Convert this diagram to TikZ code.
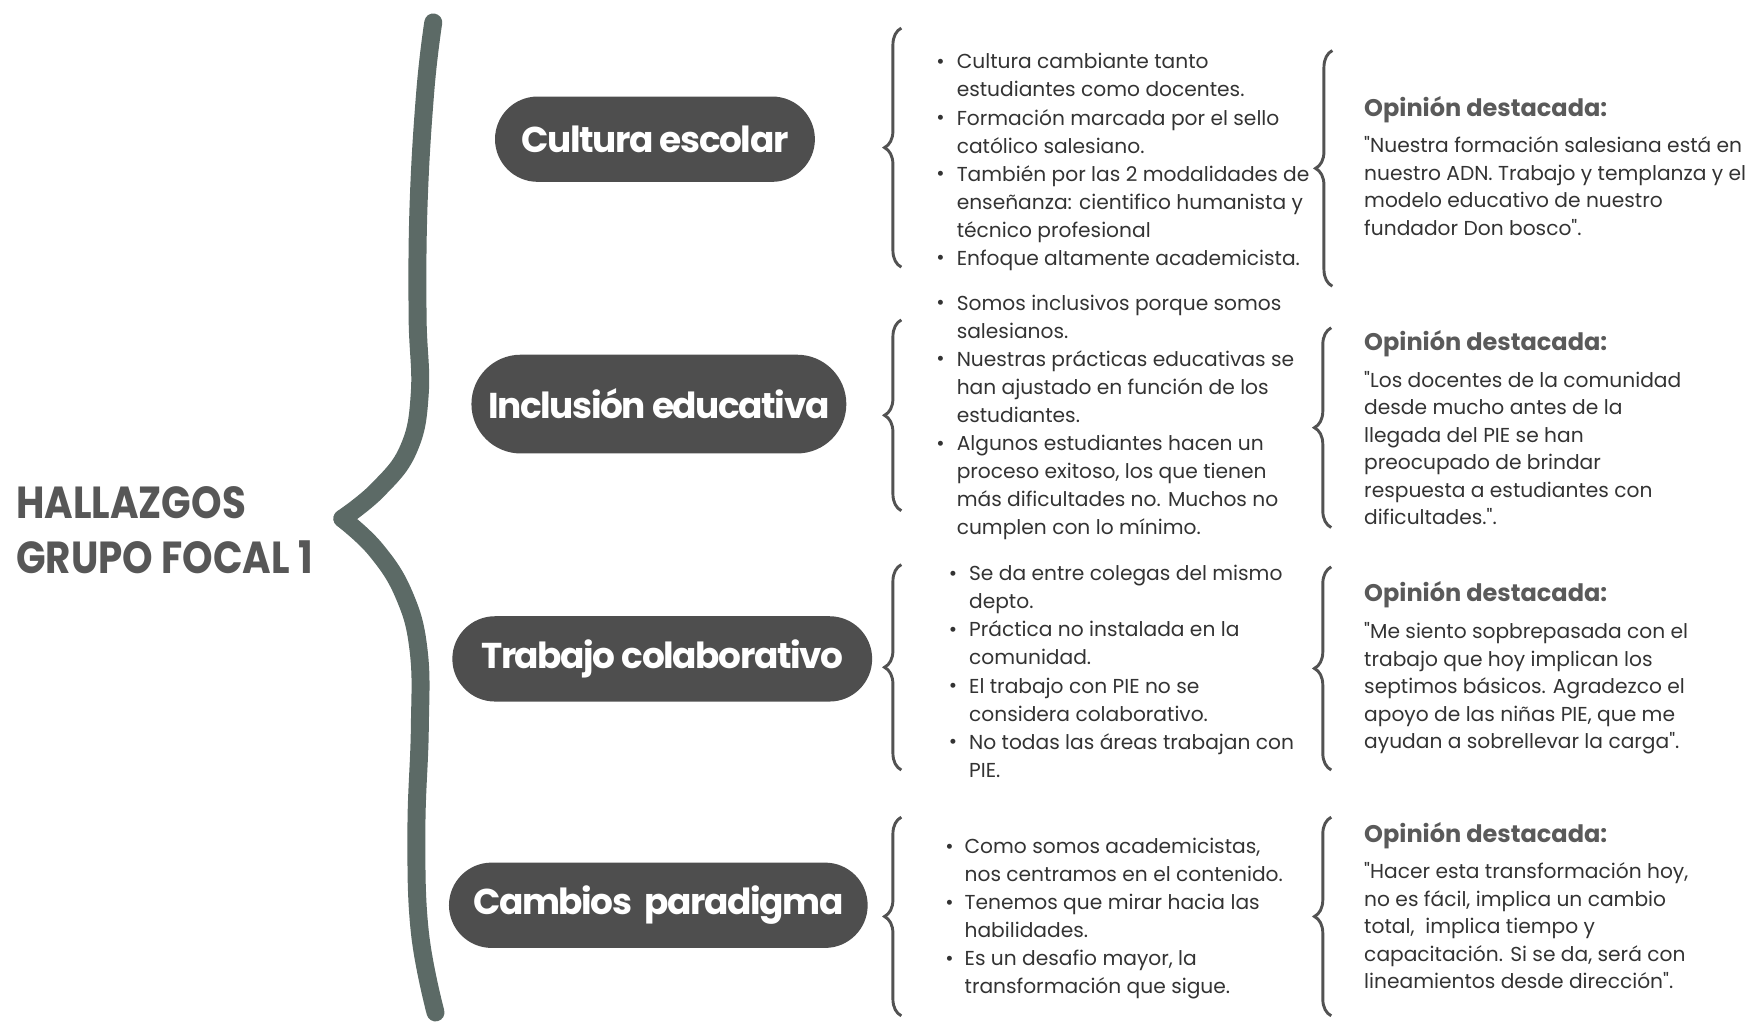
\documentclass[tikz,border=0pt]{standalone}
\usepackage{fontspec}
\setmainfont{Poppins}[Ligatures=TeXOff]
\newfontfamily\ttlfnt{Poppins}[Ligatures=TeXOff, FakeStretch=0.865]
\newfontfamily\pillfnt{Poppins}[Ligatures=TeXOff, LetterSpace=-4]
\usetikzlibrary{decorations.pathreplacing}
\definecolor{brk}{HTML}{5C6A66}
\definecolor{pillc}{HTML}{4E4E4E}
\definecolor{titc}{HTML}{575757}
\definecolor{bodyc}{HTML}{333333}
\definecolor{opc}{HTML}{5A5A5A}
\newcommand\bodyfnt{\fontsize{9}{12.5}\selectfont}
\newcommand\quotefnt{\fontsize{9}{12.25}\selectfont}
\tikzset{
  bracket/.style={draw=brk, line width=8pt, line cap=round, line join=round},
  pill/.style={fill=pillc, text=white, font=\pillfnt\bfseries\fontsize{16}{18}\selectfont, inner sep=0pt, rounded corners=19pt, minimum height=38pt},
  ttl/.style={text=titc, font=\ttlfnt\bfseries\fontsize{20}{24}\selectfont, anchor=base west, inner sep=0pt},
  bodytxt/.style={text=bodyc, font=\bodyfnt, align=left, anchor=north west, inner sep=0pt},
  quotetxt/.style={text=bodyc, font=\quotefnt, align=left, anchor=north west, inner sep=0pt},
  bul/.style={text=bodyc, font=\bodyfnt, anchor=base, inner sep=0pt},
  ophead/.style={text=opc, font=\bfseries\fontsize{10.7}{12}\selectfont, anchor=base west, inner sep=0pt},
  brc/.style={draw=bodyc!85, line width=1.3pt, decorate, decoration={brace, amplitude=7.5pt}}
}
\begin{document}
\begin{tikzpicture}[x=0.5pt,y=-0.5pt]
\useasboundingbox (0,0) rectangle (1568,910);
% big bracket
\draw[bracket] plot[smooth, tension=0.7] coordinates {(386,20) (379,80) (373,180) (372,280) (374,350) (364,400) (337,436) (305,462)};
\draw[bracket] plot[smooth, tension=0.7] coordinates {(305,462) (335,490) (360,530) (373,580) (374,650) (371,740) (374,830) (388,902)};
% title
\node[ttl] (t1) at (14,462) {HALLAZGOS};
\node[ttl] (t2) at (14,511) {GRUPO FOCAL 1};
% pills
\node[pill, minimum width=142.5pt] (p1) at (583.5,124) {Cultura escolar};
\node[pill, minimum width=167pt, minimum height=44pt, rounded corners=22pt] (p2) at (587,360) {Inclusión educativa};
\node[pill, minimum width=187pt] (p3) at (590,587) {Trabajo colaborativo};
\node[pill, minimum width=186.5pt] (p4) at (586.5,806.5) {Cambios\ \ paradigma};
% braces
\coordinate (b1a) at (803,238); \coordinate (b1b) at (803,25);
\coordinate (b1c) at (1187,255); \coordinate (b1d) at (1187,45);
\coordinate (b2a) at (803,455); \coordinate (b2b) at (803,285);
\coordinate (b2c) at (1186,470); \coordinate (b2d) at (1186,292);
\coordinate (b3a) at (803,686); \coordinate (b3b) at (803,503);
\coordinate (b3c) at (1186,686); \coordinate (b3d) at (1186,505);
\coordinate (b4a) at (803,905); \coordinate (b4b) at (803,728);
\coordinate (b4c) at (1186,905); \coordinate (b4d) at (1186,728);
\draw[brc] (b1a) -- (b1b);
\draw[brc] (b1c) -- (b1d);
\draw[brc] (b2a) -- (b2b);
\draw[brc] (b2c) -- (b2d);
\draw[brc] (b3a) -- (b3b);
\draw[brc] (b3c) -- (b3d);
\draw[brc] (b4a) -- (b4b);
\draw[brc] (b4c) -- (b4d);
% group 1 bullets
\node[bodytxt] (g1) at (852,43.5) {\strut Cultura cambiante tanto\\estudiantes como docentes.\\Formación marcada por el sello\\católico salesiano.\\También por las 2 modalidades de\\enseñanza: cientifico humanista y\\técnico profesional\\Enfoque altamente academicista.};
\node[bul] (g1a) at (838,61) {•};
\node[bul] (g1b) at (838,111) {•};
\node[bul] (g1c) at (838,161) {•};
\node[bul] (g1d) at (838,236) {•};
% group 2
\node[bodytxt] (g2) at (852,258.5) {\strut Somos inclusivos porque somos\\salesianos.\\Nuestras prácticas educativas se\\han ajustado en función de los\\estudiantes.\\Algunos estudiantes hacen un\\proceso exitoso, los que tienen\\más dificultades no. Muchos no\\cumplen con lo mínimo.};
\node[bul] (g2a) at (838,276) {•};
\node[bul] (g2b) at (838,326) {•};
\node[bul] (g2c) at (838,401) {•};
% group 3
\node[bodytxt] (g3) at (863,499.5) {\strut Se da entre colegas del mismo\\depto.\\Práctica no instalada en la\\comunidad.\\El trabajo con PIE no se\\considera colaborativo.\\No todas las áreas trabajan con\\PIE.};
\node[bul] (g3a) at (849,517) {•};
\node[bul] (g3b) at (849,567) {•};
\node[bul] (g3c) at (849,617) {•};
\node[bul] (g3d) at (849,667) {•};
% group 4
\node[bodytxt] (g4) at (859,742.5) {\strut Como somos academicistas,\\nos centramos en el contenido.\\Tenemos que mirar hacia las\\habilidades.\\Es un desafio mayor, la\\transformación que sigue.};
\node[bul] (g4a) at (846,760) {•};
\node[bul] (g4b) at (846,810) {•};
\node[bul] (g4c) at (846,860) {•};
% opinions
\node[ophead] (o1) at (1215,104) {Opinión destacada:};
\node[quotetxt] (q1) at (1215,118.5) {\strut "Nuestra formación salesiana está en\\nuestro ADN. Trabajo y templanza y el\\modelo educativo de nuestro\\fundador Don bosco".};
\node[ophead] (o2) at (1215,312) {Opinión destacada:};
\node[quotetxt] (q2) at (1215,327.5) {\strut "Los docentes de la comunidad\\desde mucho antes de la\\llegada del PIE se han\\preocupado de brindar\\respuesta a estudiantes con\\dificultades.".};
\node[ophead] (o3) at (1215,536) {Opinión destacada:};
\node[quotetxt] (q3) at (1215,551.5) {\strut "Me siento sopbrepasada con el\\trabajo que hoy implican los\\septimos básicos. Agradezco el\\apoyo de las niñas PIE, que me\\ayudan a sobrellevar la carga".};
\node[ophead] (o4) at (1215,751) {Opinión destacada:};
\node[quotetxt] (q4) at (1215,765.5) {\strut "Hacer esta transformación hoy,\\no es fácil, implica un cambio\\total,\ \ implica tiempo y\\capacitación. Si se da, será con\\lineamientos desde dirección".};
\end{tikzpicture}
\end{document}
